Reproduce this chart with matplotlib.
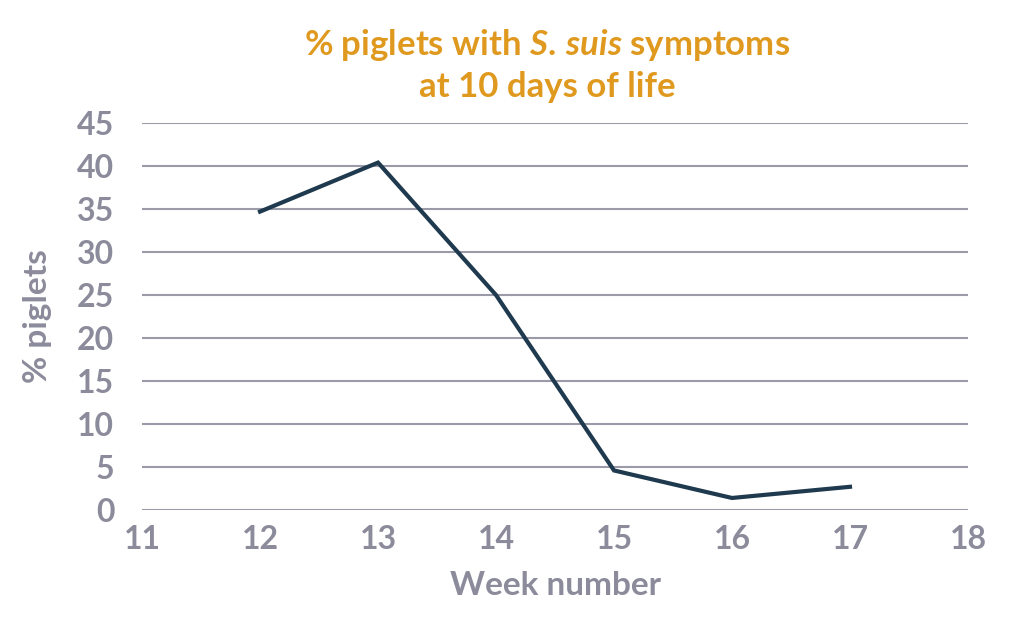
import matplotlib
matplotlib.use("Agg")
import matplotlib.pyplot as plt

# data
weeks = [12, 13, 14, 15, 16, 17]
pct_piglets = [34.7, 40.4, 25.0, 4.6, 1.4, 2.7]
x_ticks = [11, 12, 13, 14, 15, 16, 17, 18]
y_ticks = [0, 5, 10, 15, 20, 25, 30, 35, 40, 45]

plt.rcParams['font.family'] = ['Lato', 'DejaVu Sans']
plt.rcParams['font.weight'] = 'bold'
plt.rcParams['mathtext.fontset'] = 'custom'
plt.rcParams['mathtext.rm'] = 'Lato:bold'
plt.rcParams['mathtext.it'] = 'Lato:italic:bold'

grey = '#8b8b9b'
orange = '#e0991f'

fig = plt.figure(figsize=(10.24, 6.17), dpi=100)
ax = fig.add_axes([0.1387, 0.1734, 0.8066, 0.6272])

ax.plot(weeks, pct_piglets, color='#1f3a4e', lw=3, solid_joinstyle='miter')

ax.set_xlim(11, 18)
ax.set_ylim(0, 45)
ax.set_xticks(x_ticks, [str(v) for v in x_ticks], fontweight='bold')
ax.set_yticks(y_ticks, [str(v) for v in y_ticks], fontweight='bold')
ax.grid(axis='y', color='#9a9aa8', lw=1.5)
ax.set_axisbelow(True)
for s in ax.spines.values():
    s.set_visible(False)
ax.tick_params(length=0, labelsize=23, labelcolor=grey)
ax.tick_params(axis='y', pad=20)
ax.tick_params(axis='x', pad=11)

ax.set_xlabel('Week number', fontsize=24, color=grey, fontweight='bold', labelpad=12)
ax.set_ylabel('% piglets', fontsize=24, color=grey, fontweight='bold', labelpad=18)

fig.text(0.534, 0.927, r'% piglets with $\it{S.\,suis}$ symptoms', ha='center', va='center',
         fontsize=25, color=orange, fontweight='bold')
fig.text(0.534, 0.859, 'at 10 days of life', ha='center', va='center',
         fontsize=25, color=orange, fontweight='bold')

fig.savefig('out.png', dpi=100)
